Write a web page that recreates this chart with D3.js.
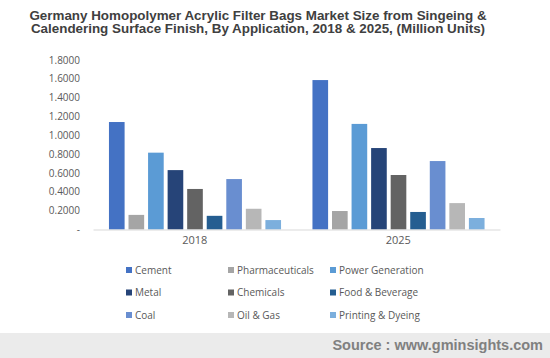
<!DOCTYPE html>
<html>
<head>
<meta charset="utf-8">
<script src="https://cdn.jsdelivr.net/npm/d3@7/dist/d3.min.js"></script>
<style>
  html, body { margin: 0; padding: 0; background: #fff; }
  svg { display: block; }
</style>
</head>
<body>
<svg id="chart" width="550" height="358"></svg>
<script>
const years = ["2018", "2025"];
const categories = ["Cement", "Pharmaceuticals", "Power Generation", "Metal", "Chemicals", "Food & Beverage", "Coal", "Oil & Gas", "Printing & Dyeing"];
const values2018 = [1.14, 0.155, 0.815, 0.63, 0.43, 0.145, 0.535, 0.22, 0.10];
const values2025 = [1.585, 0.196, 1.12, 0.864, 0.578, 0.186, 0.726, 0.28, 0.122];
const colors = ["#4472C4", "#A5A5A5", "#5B9BD5", "#264478", "#636363", "#255E91", "#698ED0", "#B7B7B7", "#7CAFDD"];
const yTicks = [0, 0.2, 0.4, 0.6, 0.8, 1.0, 1.2, 1.4, 1.6, 1.8];
const titleLines = ["Germany Homopolymer Acrylic Filter Bags Market Size from Singeing &", "Calendering Surface Finish, By Application, 2018 & 2025, (Million Units)"];
const sourceText = "Source : www.gminsights.com";

const seriesByYear = { "2018": values2018, "2025": values2025 };

const svg = d3.select("#chart");
const plot = { left: 93, right: 500, top: 59.8, bottom: 229.5 };

const x0 = d3.scaleBand().domain(years).range([plot.left, plot.right]).padding(0);
const x1 = d3.scaleBand().domain(categories).range([14, x0.bandwidth() - 13.5]).paddingInner(0.2).paddingOuter(0.1);
const y = d3.scaleLinear().domain([0, 1.8]).range([plot.bottom, plot.top]);
const color = d3.scaleOrdinal().domain(categories).range(colors);

// Title
svg.append("g").selectAll("text").data(titleLines).join("text")
  .attr("x", 258).attr("y", (d, i) => 19.5 + i * 13.5)
  .attr("text-anchor", "middle")
  .attr("font-family", "Liberation Sans, Arial, sans-serif")
  .attr("font-weight", "bold").attr("font-size", 13.4)
  .attr("fill", "#404040")
  .text(d => d);

// Y axis
const yAxis = d3.axisLeft(y).tickValues(yTicks).tickSize(0).tickPadding(0)
  .tickFormat(d => d === 0 ? "-" : d3.format(".4f")(d));
const yg = svg.append("g").attr("transform", `translate(80,0)`).call(yAxis);
yg.select(".domain").remove();
yg.selectAll("text")
  .attr("font-family", "Open Sans, sans-serif").attr("font-size", 10)
  .attr("fill", "#595959");

// Bars
const groups = svg.append("g").selectAll("g").data(years).join("g")
  .attr("transform", d => `translate(${x0(d)},0)`);
groups.selectAll("rect")
  .data(yr => categories.map((c, i) => ({ c, v: seriesByYear[yr][i] })))
  .join("rect")
  .attr("x", d => x1(d.c))
  .attr("width", x1.bandwidth())
  .attr("y", d => y(d.v))
  .attr("height", d => y(0) - y(d.v))
  .attr("fill", d => color(d.c));

// X axis
const xAxis = d3.axisBottom(x0).tickSize(0).tickPadding(7);
const xg = svg.append("g").attr("transform", `translate(0,${y(0)})`).call(xAxis);
xg.select(".domain").attr("stroke", "#d9d9d9").attr("stroke-width", 1.2);
xg.selectAll("text")
  .attr("font-family", "Open Sans, sans-serif").attr("font-size", 11)
  .attr("fill", "#595959");

// Legend
const legendCols = [126, 228, 330];
const legendRows = [270, 292.5, 315];
const lg = svg.append("g").selectAll("g").data(categories).join("g")
  .attr("transform", (d, i) => `translate(${legendCols[i % 3]},${legendRows[Math.floor(i / 3)]})`);
lg.append("rect").attr("x", 0).attr("y", -3).attr("width", 6).attr("height", 6)
  .attr("fill", d => color(d));
lg.append("text").attr("x", 9).attr("y", 0).attr("dy", "0.35em")
  .attr("font-family", "Open Sans, sans-serif").attr("font-size", 10)
  .attr("fill", "#595959")
  .text(d => d);

// Footer
svg.append("rect").attr("x", 0).attr("y", 333).attr("width", 550).attr("height", 25).attr("fill", "#ebebeb");
svg.append("text").attr("x", 543).attr("y", 349.5)
  .attr("text-anchor", "end")
  .attr("font-family", "Liberation Sans, Arial, sans-serif")
  .attr("font-weight", "bold").attr("font-size", 14.5)
  .attr("fill", "#808080")
  .text(sourceText);
</script>
</body>
</html>
